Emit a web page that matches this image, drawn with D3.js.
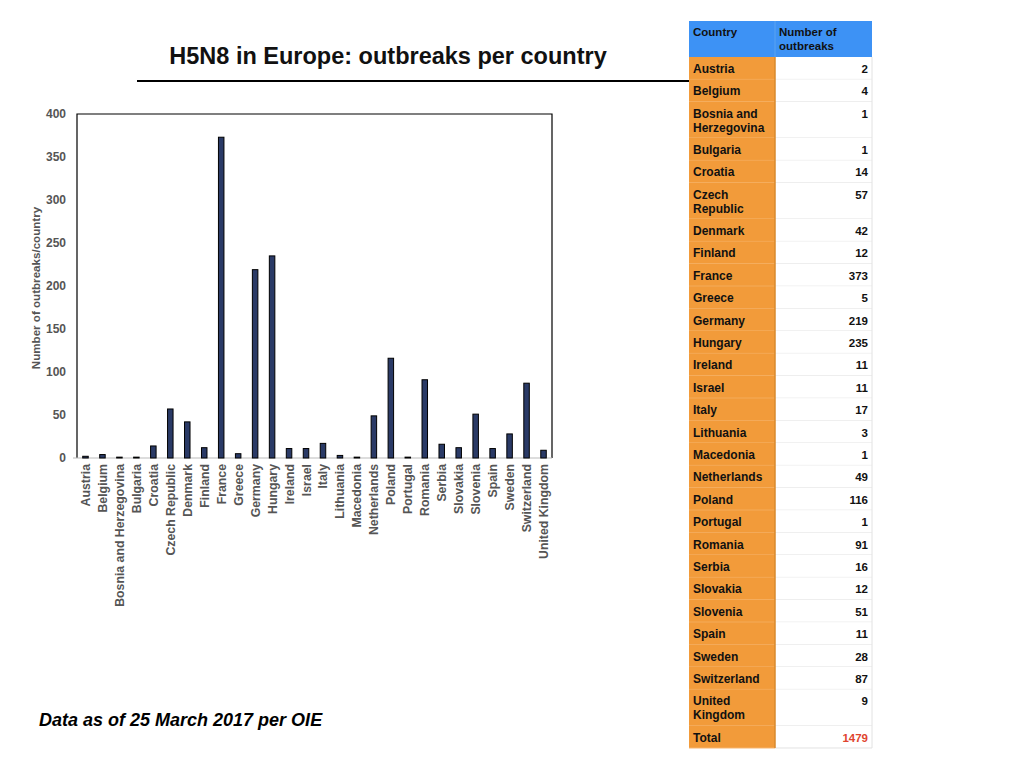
<!DOCTYPE html>
<html>
<head>
<meta charset="utf-8">
<script src="https://cdn.jsdelivr.net/npm/d3@7"></script>
<style>
  body { margin: 0; background: #fff; }
  svg { font-family: "Liberation Sans", Arial, sans-serif; }
</style>
</head>
<body>
<svg id="chart" width="1024" height="768"></svg>
<script>
// data
var countries = ["Austria", "Belgium", "Bosnia and Herzegovina", "Bulgaria", "Croatia",
  "Czech Republic", "Denmark", "Finland", "France", "Greece", "Germany", "Hungary",
  "Ireland", "Israel", "Italy", "Lithuania", "Macedonia", "Netherlands", "Poland",
  "Portugal", "Romania", "Serbia", "Slovakia", "Slovenia", "Spain", "Sweden",
  "Switzerland", "United Kingdom"];
var outbreaks = [2, 4, 1, 1, 14, 57, 42, 12, 373, 5, 219, 235, 11, 11, 17, 3, 1, 49,
  116, 1, 91, 16, 12, 51, 11, 28, 87, 9];
var yTicks = [0, 50, 100, 150, 200, 250, 300, 350, 400];
// table labels, split where the original wraps them
var tableLabels = {
  "Bosnia and Herzegovina": ["Bosnia and", "Herzegovina"],
  "Czech Republic": ["Czech", "Republic"],
  "United Kingdom": ["United", "Kingdom"]
};
var total = d3.sum(outbreaks);

var svg = d3.select("#chart");

// title + rule
svg.append("text")
  .attr("x", 388).attr("y", 64)
  .attr("text-anchor", "middle")
  .attr("font-size", 23.5).attr("font-weight", "bold")
  .attr("fill", "#111")
  .text("H5N8 in Europe: outbreaks per country");
svg.append("line")
  .attr("x1", 137).attr("x2", 690).attr("y1", 81).attr("y2", 81)
  .attr("stroke", "#000").attr("stroke-width", 2);

// bar chart
var plotLeft = 77, plotRight = 552, plotTop = 114, plotBottom = 458;

var x = d3.scaleBand().domain(countries).range([plotLeft, plotRight]);
var y = d3.scaleLinear().domain([0, 400]).range([plotBottom, plotTop]);

var g = svg.append("g");

// frame: black top/left/right, grey baseline
g.append("path")
  .attr("d", "M" + plotLeft + "," + plotBottom + "V" + plotTop + "H" + plotRight + "V" + plotBottom)
  .attr("fill", "none").attr("stroke", "#000").attr("stroke-width", 1.2);
g.append("line")
  .attr("x1", plotLeft - 4).attr("x2", plotRight).attr("y1", plotBottom).attr("y2", plotBottom)
  .attr("stroke", "#bbb").attr("stroke-width", 1);

var yAxis = g.append("g")
  .attr("transform", "translate(" + plotLeft + ",0)")
  .call(d3.axisLeft(y).tickValues(yTicks).tickSize(0).tickPadding(11));
yAxis.select(".domain").remove();
yAxis.selectAll("text")
  .attr("font-size", 12).attr("font-weight", "bold").attr("fill", "#555")
  .attr("font-family", "Liberation Sans, Arial, sans-serif");

var barW = 5.5;
g.selectAll(".bar")
  .data(countries)
  .enter()
  .append("rect")
  .attr("class", "bar")
  .attr("x", function(d){ return x(d) + x.bandwidth() / 2 - barW / 2; })
  .attr("y", function(d, i){ return y(outbreaks[i]); })
  .attr("width", barW)
  .attr("height", function(d, i){ return plotBottom - y(outbreaks[i]); })
  .attr("fill", "#2a3a66")
  .attr("stroke", "#000").attr("stroke-width", 1);

var xAxis = g.append("g")
  .attr("transform", "translate(0," + plotBottom + ")")
  .call(d3.axisBottom(x).tickSize(0).tickPadding(0));
xAxis.select(".domain").remove();
xAxis.selectAll("text")
  .attr("font-size", 12.3).attr("font-weight", "bold").attr("fill", "#555")
  .attr("font-family", "Liberation Sans, Arial, sans-serif")
  .attr("text-anchor", "end")
  .attr("dy", null)
  .attr("transform", "translate(4.5,6) rotate(-90)");

svg.append("text")
  .attr("transform", "translate(40,288) rotate(-90)")
  .attr("text-anchor", "middle")
  .attr("font-size", 11.6).attr("font-weight", "bold").attr("fill", "#555")
  .text("Number of outbreaks/country");

svg.append("text")
  .attr("x", 39).attr("y", 726)
  .attr("font-size", 18).attr("font-weight", "bold").attr("font-style", "italic")
  .attr("fill", "#000")
  .text("Data as of 25 March 2017 per OIE");

// table on the right
var tx0 = 689, tx1 = 775, tx2 = 872;
var headTop = 21, headBottom = 57;
var rowH1 = 22.4, rowH2 = 36.2;

svg.append("rect")
  .attr("x", tx0).attr("y", headTop).attr("width", tx2 - tx0).attr("height", headBottom - headTop)
  .attr("fill", "#3d92f5");
svg.append("line")
  .attr("x1", tx1).attr("x2", tx1).attr("y1", headTop).attr("y2", headBottom)
  .attr("stroke", "#5aa3f2").attr("stroke-width", 1);
svg.append("text").attr("x", tx0 + 4).attr("y", headTop + 15)
  .attr("font-size", 11.5).attr("font-weight", "bold").attr("fill", "#111")
  .text("Country");
svg.append("text").attr("x", tx1 + 4).attr("y", headTop + 15)
  .attr("font-size", 11.5).attr("font-weight", "bold").attr("fill", "#111")
  .selectAll("tspan").data(["Number of", "outbreaks"]).enter().append("tspan")
  .attr("x", tx1 + 4).attr("dy", function(d, i){ return i ? 14 : 0; })
  .text(function(d){ return d; });

var rows = countries.map(function(c, i){
  return { label: tableLabels[c] || [c], value: outbreaks[i], total: false };
});
rows.push({ label: ["Total"], value: total, total: true });

var yy = headBottom;
rows.forEach(function(r){
  r.y = yy;
  r.h = r.label.length > 1 ? rowH2 : rowH1;
  yy += r.h;
});

var tr = svg.append("g").selectAll("g").data(rows).enter().append("g")
  .attr("transform", function(d){ return "translate(0," + d.y + ")"; });

tr.append("rect")
  .attr("x", tx0).attr("width", tx1 - tx0).attr("height", function(d){ return d.h; })
  .attr("fill", "#f29b3a");
tr.append("rect")
  .attr("x", tx1).attr("width", tx2 - tx1).attr("height", function(d){ return d.h; })
  .attr("fill", "#fff");
tr.append("line")
  .attr("x1", tx0).attr("x2", tx1).attr("y1", function(d){ return d.h; }).attr("y2", function(d){ return d.h; })
  .attr("stroke", "#f6b46c").attr("stroke-width", 1);
tr.append("line")
  .attr("x1", tx1).attr("x2", tx2).attr("y1", function(d){ return d.h; }).attr("y2", function(d){ return d.h; })
  .attr("stroke", "#e2e2e2").attr("stroke-width", 1);

tr.append("text")
  .attr("y", 16)
  .attr("font-size", 12).attr("font-weight", "bold").attr("fill", "#111")
  .selectAll("tspan").data(function(d){ return d.label; }).enter().append("tspan")
  .attr("x", tx0 + 4).attr("dy", function(d, i){ return i ? 14 : 0; })
  .text(function(d){ return d; });

tr.append("text")
  .attr("x", tx2 - 4).attr("y", 16)
  .attr("text-anchor", "end")
  .attr("font-size", 11.5).attr("font-weight", "bold")
  .attr("fill", function(d){ return d.total ? "#e0442e" : "#111"; })
  .text(function(d){ return d.value; });

// column borders
svg.append("line")
  .attr("x1", tx1).attr("x2", tx1).attr("y1", headBottom).attr("y2", yy)
  .attr("stroke", "#d98a2e").attr("stroke-width", 1.5);
svg.append("line")
  .attr("x1", tx2).attr("x2", tx2).attr("y1", headBottom).attr("y2", yy)
  .attr("stroke", "#e2e2e2").attr("stroke-width", 1);
</script>
</body>
</html>
